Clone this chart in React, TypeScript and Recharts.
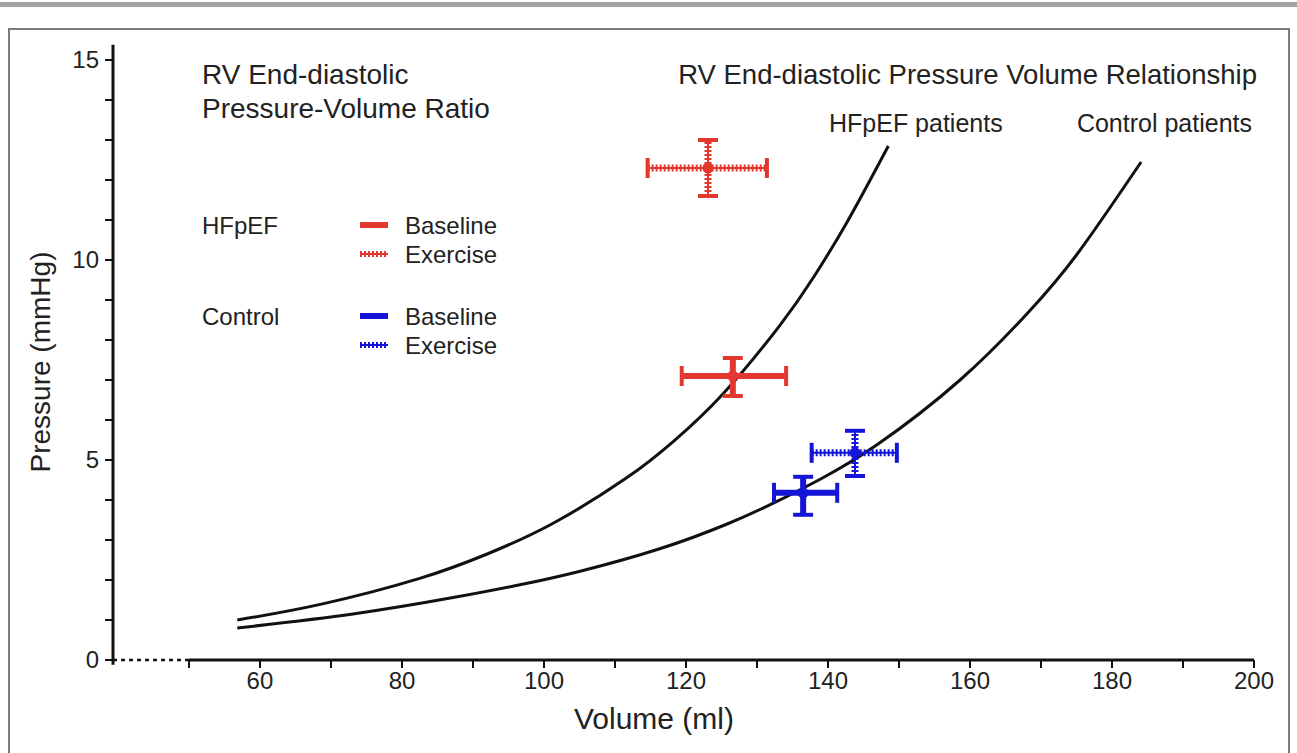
import React from 'react';
import { ComposedChart, Line, Scatter, XAxis, YAxis, ReferenceLine, Cell } from 'recharts';

// RV end-diastolic pressure-volume relationship curves (Volume ml, Pressure mmHg)
const hfpefCurve = [
  { v: 56.8, p: 1.0 },
  { v: 68.5, p: 1.39 },
  { v: 82.5, p: 2.04 },
  { v: 92.0, p: 2.65 },
  { v: 101.3, p: 3.42 },
  { v: 111.7, p: 4.56 },
  { v: 118.2, p: 5.46 },
  { v: 125.2, p: 6.65 },
  { v: 133.2, p: 8.36 },
  { v: 137.9, p: 9.55 },
  { v: 142.7, p: 10.95 },
  { v: 148.5, p: 12.85 },
];

const controlCurve = [
  { v: 56.8, p: 0.8 },
  { v: 73.1, p: 1.15 },
  { v: 87.2, p: 1.56 },
  { v: 96.6, p: 1.88 },
  { v: 105.1, p: 2.22 },
  { v: 116.3, p: 2.78 },
  { v: 125.8, p: 3.4 },
  { v: 132.3, p: 3.92 },
  { v: 138.9, p: 4.52 },
  { v: 146.9, p: 5.38 },
  { v: 158.6, p: 7.0 },
  { v: 168.0, p: 8.65 },
  { v: 175.1, p: 10.15 },
  { v: 184.1, p: 12.45 },
];

// Group means with error ranges
const groupNames = ['HFpEF Baseline', 'HFpEF Exercise', 'Control Baseline', 'Control Exercise'];
const volumeMean = [126.6, 123.1, 136.5, 143.8];
const volumeLow = [119.4, 114.6, 132.4, 137.7];
const volumeHigh = [134.1, 131.4, 141.3, 149.7];
const pressureMean = [7.1, 12.3, 4.18, 5.18];
const pressureLow = [6.6, 11.6, 3.63, 4.6];
const pressureHigh = [7.55, 13.0, 4.58, 5.73];
const groupColors = ['#e3382d', '#e3382d', '#1515d8', '#1515d8'];
const groupDashed = [false, true, false, true];

const xTicks = [50, 60, 70, 80, 90, 100, 110, 120, 130, 140, 150, 160, 170, 180, 190, 200];
const yTicks = [0, 1, 2, 3, 4, 5, 6, 7, 8, 9, 10, 11, 12, 13, 14, 15];
const xDomainMin = 39.3;

const FONT = '"Liberation Sans", Arial, Helvetica, sans-serif';
const TEXT = '#222';

const markerData = groupNames.map((name, i) => ({ name, v: volumeMean[i], p: pressureMean[i] }));

const makeErrorShape = (dashed: boolean, color: string) => (props: any) => {
  const { x1, y1, x2, y2 } = props;
  if ([x1, y1, x2, y2].some((n) => typeof n !== 'number' || isNaN(n))) return <g />;
  const horizontal = Math.abs(x2 - x1) > Math.abs(y2 - y1);
  const cap = 10;
  const caps = horizontal
    ? [
        [x1, y1 - cap, x1, y1 + cap],
        [x2, y2 - cap, x2, y2 + cap],
      ]
    : [
        [x1 - cap, y1, x1 + cap, y1],
        [x2 - cap, y2, x2 + cap, y2],
      ];
  return (
    <g>
      {dashed ? (
        <>
          <line x1={x1} y1={y1} x2={x2} y2={y2} stroke={color} strokeWidth={2} />
          <line x1={x1} y1={y1} x2={x2} y2={y2} stroke={color} strokeWidth={7} strokeDasharray="2 2" />
        </>
      ) : (
        <line x1={x1} y1={y1} x2={x2} y2={y2} stroke={color} strokeWidth={6} />
      )}
      {caps.map((c, k) => (
        <line key={k} x1={c[0]} y1={c[1]} x2={c[2]} y2={c[3]} stroke={color} strokeWidth={4} />
      ))}
    </g>
  );
};

const Dot = (props: any) => {
  const { cx, cy, fill } = props;
  if (typeof cx !== 'number' || typeof cy !== 'number') return <g />;
  return <circle cx={cx} cy={cy} r={5.5} fill={fill} />;
};

const XTick = (props: any) => {
  const { x, y, payload } = props;
  if (payload.value % 20 !== 0) return <g />;
  return (
    <text x={x} y={y} dy={19} textAnchor="middle" fontSize={24} fill={TEXT} fontFamily={FONT}>
      {payload.value}
    </text>
  );
};

const YTick = (props: any) => {
  const { x, y, payload } = props;
  if (payload.value % 5 !== 0) return <g />;
  return (
    <text x={x} y={y} dy={8} textAnchor="end" fontSize={24} fill={TEXT} fontFamily={FONT}>
      {payload.value}
    </text>
  );
};

export default function App() {
  return (
    <div style={{ position: 'absolute', left: 0, top: 0, width: 1297, height: 753, background: '#fff', overflow: 'hidden' }}>
      <div style={{ position: 'absolute', left: 0, top: 2, width: 1297, height: 5, background: '#a3a3a3' }} />
      <div
        style={{
          position: 'absolute',
          left: 8,
          top: 28,
          width: 1282,
          height: 760,
          border: '2px solid #7a7a7a',
          boxSizing: 'border-box',
        }}
      />
      <div style={{ position: 'absolute', left: 0, top: 0 }}>
        <ComposedChart width={1297} height={753} margin={{ top: 60, right: 43, bottom: 63, left: 53 }}>
          <XAxis
            type="number"
            dataKey="v"
            domain={[xDomainMin, 200]}
            ticks={xTicks}
            interval={0}
            allowDataOverflow
            axisLine={false}
            tickLine={{ stroke: '#111', strokeWidth: 2 }}
            tickSize={8}
            tick={<XTick />}
            height={30}
          />
          <YAxis
            type="number"
            domain={[0, 15]}
            ticks={yTicks}
            interval={0}
            allowDataOverflow
            axisLine={false}
            tickLine={{ stroke: '#111', strokeWidth: 2 }}
            tickSize={8}
            tickMargin={6}
            tick={<YTick />}
            width={60}
          />
          {/* axis lines */}
          <ReferenceLine
            segment={[{ x: 50, y: 0 }, { x: 200, y: 0 }]}
            stroke="#111"
            strokeWidth={3}
            ifOverflow="visible"
          />
          <ReferenceLine
            segment={[{ x: xDomainMin, y: 0 }, { x: 50, y: 0 }]}
            stroke="#111"
            strokeWidth={2.5}
            strokeDasharray="4 4"
            ifOverflow="visible"
          />
          <ReferenceLine
            segment={[{ x: xDomainMin, y: -0.12 }, { x: xDomainMin, y: 15.38 }]}
            stroke="#111"
            strokeWidth={3}
            ifOverflow="visible"
          />
          <Line
            data={hfpefCurve}
            dataKey="p"
            type="natural"
            stroke="#111"
            strokeWidth={3}
            dot={false}
            isAnimationActive={false}
          />
          <Line
            data={controlCurve}
            dataKey="p"
            type="natural"
            stroke="#111"
            strokeWidth={3}
            dot={false}
            isAnimationActive={false}
          />
          {groupNames.map((name, i) => (
            <ReferenceLine
              key={name + '-h'}
              segment={[
                { x: volumeLow[i], y: pressureMean[i] },
                { x: volumeHigh[i], y: pressureMean[i] },
              ]}
              ifOverflow="visible"
              shape={makeErrorShape(groupDashed[i], groupColors[i])}
            />
          ))}
          {groupNames.map((name, i) => (
            <ReferenceLine
              key={name + '-v'}
              segment={[
                { x: volumeMean[i], y: pressureLow[i] },
                { x: volumeMean[i], y: pressureHigh[i] },
              ]}
              ifOverflow="visible"
              shape={makeErrorShape(groupDashed[i], groupColors[i])}
            />
          ))}
          <Scatter data={markerData} dataKey="p" isAnimationActive={false} shape={<Dot />}>
            {markerData.map((d, i) => (
              <Cell key={d.name} fill={groupColors[i]} />
            ))}
          </Scatter>
        </ComposedChart>
      </div>
      <svg
        width={1297}
        height={753}
        style={{ position: 'absolute', left: 0, top: 0, pointerEvents: 'none' }}
        fontFamily={FONT}
      >
        <text x={202} y={84} fontSize={28} fill={TEXT}>RV End-diastolic</text>
        <text x={202} y={118} fontSize={28} fill={TEXT}>Pressure-Volume Ratio</text>
        <text x={1257} y={84} fontSize={27.5} fill={TEXT} textAnchor="end">
          RV End-diastolic Pressure Volume Relationship
        </text>
        <text x={829} y={132} fontSize={25} fill={TEXT}>HFpEF patients</text>
        <text x={1252} y={132} fontSize={25} fill={TEXT} textAnchor="end">Control patients</text>

        <text x={202} y={234} fontSize={24} fill={TEXT}>HFpEF</text>
        <text x={202} y={325} fontSize={24} fill={TEXT}>Control</text>
        <line x1={360} y1={225} x2={388} y2={225} stroke="#e3382d" strokeWidth={6} />
        <line x1={360} y1={254} x2={388} y2={254} stroke="#e3382d" strokeWidth={2} />
        <line x1={360} y1={254} x2={388} y2={254} stroke="#e3382d" strokeWidth={6} strokeDasharray="2 2" />
        <line x1={360} y1={316} x2={388} y2={316} stroke="#1515d8" strokeWidth={6} />
        <line x1={360} y1={345} x2={388} y2={345} stroke="#1515d8" strokeWidth={2} />
        <line x1={360} y1={345} x2={388} y2={345} stroke="#1515d8" strokeWidth={6} strokeDasharray="2 2" />
        <text x={405} y={234} fontSize={24} fill={TEXT}>Baseline</text>
        <text x={405} y={263} fontSize={24} fill={TEXT}>Exercise</text>
        <text x={405} y={325} fontSize={24} fill={TEXT}>Baseline</text>
        <text x={405} y={354} fontSize={24} fill={TEXT}>Exercise</text>

        <text x={654} y={729} fontSize={30} fill={TEXT} textAnchor="middle">Volume (ml)</text>
        <text
          x={40}
          y={362}
          fontSize={28}
          fill={TEXT}
          textAnchor="middle"
          dominantBaseline="central"
          transform="rotate(-90 40 362)"
        >
          Pressure (mmHg)
        </text>
      </svg>
    </div>
  );
}
